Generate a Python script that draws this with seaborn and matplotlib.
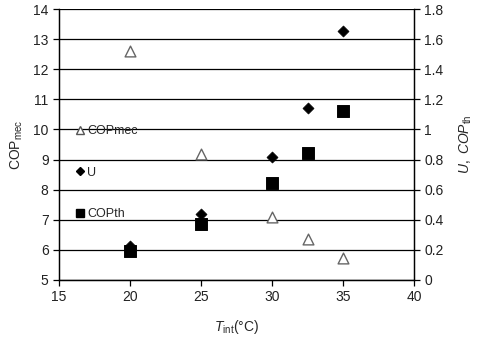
import numpy as np
import pandas as pd
import matplotlib
matplotlib.use('Agg')
import matplotlib.pyplot as plt
import seaborn as sns
from matplotlib.lines import Line2D
from matplotlib.ticker import FuncFormatter

sns.set_style('white')
plt.rcParams['font.family'] = ['Liberation Sans', 'DejaVu Sans']
plt.rcParams['mathtext.fontset'] = 'custom'
plt.rcParams['mathtext.rm'] = 'Liberation Sans'
plt.rcParams['mathtext.it'] = 'Liberation Sans:italic'

# Data
t_mec = [20, 25, 30, 32.5, 35]
cop_mec = [12.6, 9.18, 7.1, 6.35, 5.72]

t_th = [20, 25, 30, 32.5, 35]
u_vals = [0.225, 0.44, 0.815, 1.145, 1.655]
cop_th = [0.195, 0.372, 0.642, 0.846, 1.123]

df_mec = pd.DataFrame({'T': t_mec, 'COPmec': cop_mec})
df_th = pd.DataFrame({'T': t_th, 'U': u_vals, 'COPth': cop_th})

fig = plt.figure(figsize=(4.8, 3.38), dpi=100)
ax = fig.add_axes([0.123, 0.172, 0.7395, 0.801])
ax2 = ax.twinx()

sns.scatterplot(data=df_mec, x='T', y='COPmec', ax=ax, marker='^', s=60,
                facecolor='white', edgecolor='#666666', linewidth=1.0, zorder=3)
sns.scatterplot(data=df_th, x='T', y='U', ax=ax2, marker='D', s=32,
                color='black', edgecolor='black', zorder=3)
sns.scatterplot(data=df_th, x='T', y='COPth', ax=ax2, marker='s', s=70,
                color='black', edgecolor='black', zorder=4)

ax.set_xlim(15, 40)
ax.set_ylim(5, 14)
ax2.set_ylim(0, 1.8)
ax.set_xticks(np.arange(15, 41, 5))
ax.set_yticks(np.arange(5, 15, 1))
ax2.set_yticks(np.arange(0, 1.81, 0.2))
ax2.yaxis.set_major_formatter(FuncFormatter(lambda v, p: f'{v:g}'))

ax.grid(axis='y', color='black', linewidth=0.9)
ax.grid(axis='x', visible=False)
ax2.grid(False)
ax.set_axisbelow(True)

for a in (ax, ax2):
    a.spines['top'].set_visible(False)
    for s in ('left', 'right', 'bottom'):
        a.spines[s].set_color('black')
        a.spines[s].set_linewidth(0.9)
    a.tick_params(direction='out', length=4, width=0.9, color='black',
                  labelsize=10, labelcolor='#222222')
ax.tick_params(axis='y', left=True, right=False)
ax.tick_params(axis='x', bottom=True)
ax2.tick_params(axis='y', right=True, left=False)

ax.set_xlabel(r'$\mathit{T}_{\mathrm{int}}$(°C)', fontsize=10, labelpad=10)
ax.set_ylabel(r'$\mathrm{COP}_{\mathrm{mec}}$', fontsize=10, labelpad=6)
ax2.set_ylabel(r'$\mathit{U,\ COP}_{\mathrm{th}}$', fontsize=10, labelpad=10)

handles = [
    Line2D([], [], marker='^', linestyle='none', markersize=6,
           markerfacecolor='white', markeredgecolor='#555555', label='COPmec'),
    Line2D([], [], marker='D', linestyle='none', markersize=4,
           color='black', label='U'),
    Line2D([], [], marker='s', linestyle='none', markersize=6,
           color='black', label='COPth'),
]
ax2.legend(handles=handles, loc='upper left', bbox_to_anchor=(0.02, 0.603),
           frameon=False, fontsize=9, labelspacing=2.35, handlelength=0.8,
           handletextpad=0.2, borderaxespad=0.3)

fig.savefig('out.png', dpi=100)
